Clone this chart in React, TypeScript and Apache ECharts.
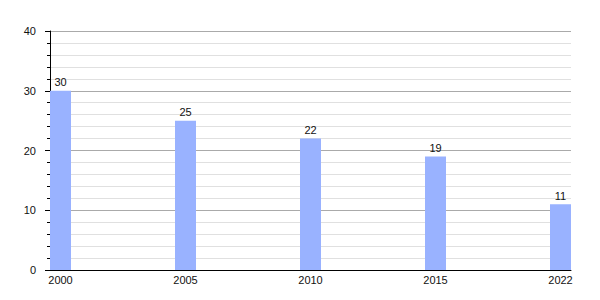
import React, { useEffect, useRef } from "react";
import * as echarts from "echarts";

const years: string[] = ["2000", "2005", "2010", "2015", "2022"];
const values: number[] = [30, 25, 22, 19, 11];
const yTicks: number[] = [0, 10, 20, 30, 40];

export default function App() {
  const ref = useRef<HTMLDivElement>(null);
  useEffect(() => {
    if (!ref.current) return;
    const chart = echarts.init(ref.current, null, { renderer: "svg" });
    const font = "'Liberation Sans', Arial, sans-serif";
    chart.setOption({
      animation: false,
      backgroundColor: "#ffffff",
      grid: { left: 50, right: 29, top: 31, bottom: 30, containLabel: false },
      xAxis: {
        type: "value",
        min: -0.084,
        max: 4.084,
        axisLine: { show: true, onZero: false, lineStyle: { color: "#000", width: 1 } },
        axisTick: { show: false },
        splitLine: { show: false },
        axisLabel: {
          customValues: years.map((_, i) => i),
          formatter: (v: number) => years[Math.round(v)] ?? "",
          color: "#111",
          fontFamily: font,
          fontSize: 11,
          margin: 4,
        },
      },
      yAxis: {
        type: "value",
        min: yTicks[0],
        max: yTicks[yTicks.length - 1],
        interval: 10,
        axisLine: { show: true, onZero: false, lineStyle: { color: "#000", width: 1 } },
        axisTick: { show: true, length: 5, lineStyle: { color: "#000" } },
        minorTick: { show: true, splitNumber: 5, length: 3, lineStyle: { color: "#000" } },
        splitLine: { show: true, lineStyle: { color: "#aaaaaa", width: 1 } },
        minorSplitLine: { show: true, lineStyle: { color: "#e0e0e0", width: 1 } },
        axisLabel: { color: "#111", fontFamily: font, fontSize: 11, margin: 14 },
      },
      series: [
        {
          type: "bar",
          data: values.map((v, i) => [i, v]),
          barWidth: 21,
          itemStyle: { color: "#99b2ff" },
          label: {
            show: true,
            position: "top",
            distance: 3,
            color: "#111",
            fontFamily: font,
            fontSize: 11,
          },
        },
      ],
    });
    return () => chart.dispose();
  }, []);
  return (
    <div
      ref={ref}
      style={{ position: "fixed", left: 0, top: 0, width: 600, height: 300 }}
    />
  );
}
